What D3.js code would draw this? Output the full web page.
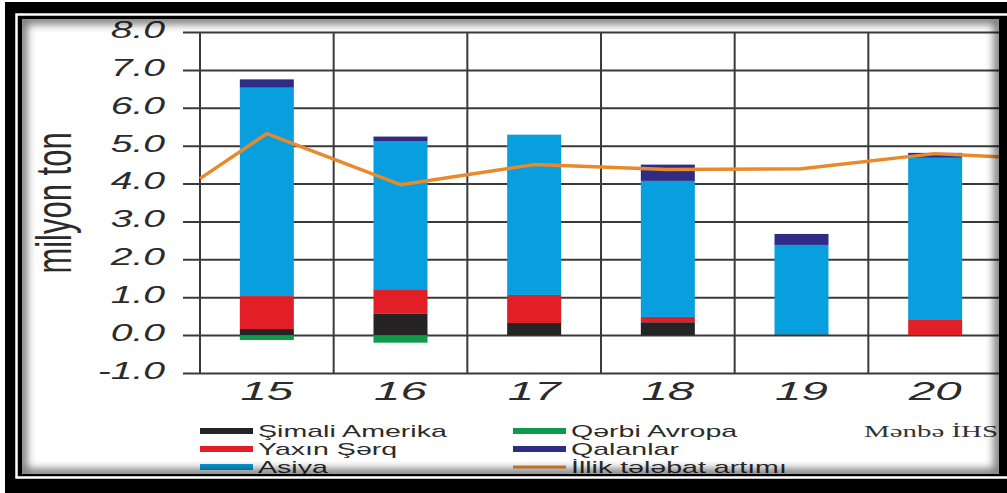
<!DOCTYPE html>
<html>
<head>
<meta charset="utf-8">
<script src="https://cdn.jsdelivr.net/npm/d3@7"></script>
<style>
body{margin:0;background:#fff;}
svg{display:block;}
</style>
</head>
<body>
<svg id="chart" width="1007" height="493"></svg>
<script>
// data (milyon ton)
var years = ["15", "16", "17", "18", "19", "20"];
var simaliAmerika = [0.16, 0.56, 0.32, 0.34, 0.02, 0];
var qerbiAvropa = [-0.13, -0.2, 0, 0, 0, 0];
var yaxinSerq = [0.87, 0.63, 0.74, 0.14, 0, 0.42];
var asiya = [5.5, 3.92, 4.23, 3.59, 2.36, 4.26];
var qalanlar = [0.22, 0.13, 0, 0.43, 0.29, 0.13];
var telebat = [5.32, 3.97, 4.5, 4.37, 4.39, 4.79];
var telebatEdges = [4.13, 4.7]; // line value at left and right edge of plot
var yTicks = [-1, 0, 1, 2, 3, 4, 5, 6, 7, 8];
var yTickLabels = ["-1.0", "0.0", "1.0", "2.0", "3.0", "4.0", "5.0", "6.0", "7.0", "8.0"];

var keys = ["Şimali Amerika", "Qərbi Avropa", "Yaxın Şərq", "Asiya", "Qalanlar"];
var colors = {
    "Şimali Amerika": "#262324",
    "Qərbi Avropa": "#0f9a4a",
    "Yaxın Şərq": "#e21e26",
    "Asiya": "#089fde",
    "Qalanlar": "#2f2c86"
};
var lineColor = "#e8892b";
var gridColor = "#3a3a3a";

var table = years.map(function(yr, i){
    return {
        year: yr,
        "Şimali Amerika": simaliAmerika[i],
        "Qərbi Avropa": qerbiAvropa[i],
        "Yaxın Şərq": yaxinSerq[i],
        "Asiya": asiya[i],
        "Qalanlar": qalanlar[i]
    };
});

var svg = d3.select("#chart");

var x = d3.scaleBand()
    .domain(years)
    .range([200, 1002])
    .paddingInner(0.596)
    .paddingOuter(0.298);

var y = d3.scaleLinear()
    .domain([-1, 8])
    .range([373, 32]);

var plot = svg.append("g");

// horizontal grid + y labels
var yAxis = plot.append("g")
    .attr("transform", "translate(183,0)")
    .call(d3.axisLeft(y)
        .tickValues(yTicks)
        .tickFormat(function(d, i){ return yTickLabels[i]; })
        .tickSize(-817)
        .tickPadding(0));
yAxis.select(".domain").remove();
yAxis.selectAll("line")
    .attr("stroke", gridColor)
    .attr("stroke-width", 2);
yAxis.selectAll("text")
    .attr("x", null)
    .attr("transform", "translate(-18,-2) scale(1.7,1)")
    .attr("fill", "#2b2b2b")
    .style("font-family", "'Liberation Sans', Arial, sans-serif")
    .style("font-style", "italic")
    .style("font-size", "23px");

// vertical grid at band boundaries
var bounds = years.map(function(d){ return x(d) + x.bandwidth() / 2 - x.step() / 2; });
bounds.push(bounds[bounds.length - 1] + x.step());
plot.append("g").selectAll("line")
    .data(bounds)
    .join("line")
    .attr("x1", function(d){ return d; })
    .attr("x2", function(d){ return d; })
    .attr("y1", y(8))
    .attr("y2", y(-1))
    .attr("stroke", gridColor)
    .attr("stroke-width", 2);

// stacked bars
var stacked = d3.stack()
    .keys(keys)
    .offset(d3.stackOffsetDiverging)(table);

plot.append("g").selectAll("g")
    .data(stacked)
    .join("g")
    .attr("fill", function(s){ return colors[s.key]; })
    .selectAll("rect")
    .data(function(s){ return s; })
    .join("rect")
    .attr("x", function(d){ return x(d.data.year); })
    .attr("width", x.bandwidth())
    .attr("y", function(d){ return y(Math.max(d[0], d[1])); })
    .attr("height", function(d){ return Math.abs(y(d[0]) - y(d[1])); });

// x labels
var xAxis = plot.append("g")
    .attr("transform", "translate(0,373)")
    .call(d3.axisBottom(x).tickSize(0).tickPadding(9));
xAxis.select(".domain").remove();
xAxis.selectAll("text")
    .attr("transform", "scale(1.9,1)")
    .attr("fill", "#2b2b2b")
    .style("font-family", "'Liberation Sans', Arial, sans-serif")
    .style("font-style", "italic")
    .style("font-size", "25px");

// demand growth line
var linePts = [{px: x.range()[0], v: telebatEdges[0]}];
years.forEach(function(yr, i){
    linePts.push({px: x(yr) + x.bandwidth() / 2, v: telebat[i]});
});
linePts.push({px: x.range()[1], v: telebatEdges[1]});

var lineGen = d3.line()
    .x(function(d){ return d.px; })
    .y(function(d){ return y(d.v); });

plot.append("path")
    .datum(linePts)
    .attr("d", lineGen)
    .attr("fill", "none")
    .attr("stroke", lineColor)
    .attr("stroke-width", 3.5)
    .attr("stroke-linejoin", "round");

// y title
svg.append("text")
    .attr("transform", "translate(71,203) rotate(-90) scale(1,1.6)")
    .attr("text-anchor", "middle")
    .attr("fill", "#2b2b2b")
    .style("font-family", "'Liberation Sans', Arial, sans-serif")
    .style("font-size", "31px")
    .text("milyon ton");

// legend
var legendItems = [
    {name: "Şimali Amerika", color: colors["Şimali Amerika"], col: 0, row: 0},
    {name: "Yaxın Şərq", color: colors["Yaxın Şərq"], col: 0, row: 1},
    {name: "Asiya", color: colors["Asiya"], col: 0, row: 2},
    {name: "Qərbi Avropa", color: colors["Qərbi Avropa"], col: 1, row: 0},
    {name: "Qalanlar", color: colors["Qalanlar"], col: 1, row: 1},
    {name: "İllik tələbat artımı", color: lineColor, col: 1, row: 2, line: true}
];
var legend = svg.append("g");
var li = legend.selectAll("g")
    .data(legendItems)
    .join("g")
    .attr("transform", function(d){ return "translate(" + (200 + d.col * 313) + "," + (431 + d.row * 18) + ")"; });
li.append("rect")
    .attr("x", 0)
    .attr("y", function(d){ return d.line ? -1.5 : -3; })
    .attr("width", 53)
    .attr("height", function(d){ return d.line ? 3 : 6; })
    .attr("fill", function(d){ return d.color; });
li.append("text")
    .attr("transform", "translate(58,6) scale(1.68,1)")
    .attr("fill", "#2b2b2b")
    .style("font-family", "'Liberation Sans', Arial, sans-serif")
    .style("font-size", "17px")
    .text(function(d){ return d.name; });

svg.append("text")
    .attr("transform", "translate(998,437) scale(1.7,1)")
    .attr("text-anchor", "end")
    .attr("fill", "#333")
    .style("font-family", "'Liberation Serif', 'Times New Roman', serif")
    .style("font-size", "17px")
    .text("Mənbə İHS");

// frame with inner shadow
var defs = svg.append("defs");
defs.append("clipPath").attr("id", "inner")
    .append("rect").attr("x", 22).attr("y", 19).attr("width", 977).attr("height", 455);
defs.append("filter").attr("id", "blur")
    .attr("x", "-5%").attr("y", "-5%").attr("width", "110%").attr("height", "110%")
    .append("feGaussianBlur").attr("stdDeviation", 4);

svg.append("g").attr("clip-path", "url(#inner)")
    .append("rect")
    .attr("x", 22).attr("y", 19).attr("width", 977).attr("height", 455)
    .attr("fill", "none")
    .attr("stroke", "#000")
    .attr("stroke-opacity", 0.55)
    .attr("stroke-width", 10)
    .attr("filter", "url(#blur)");

svg.append("path")
    .attr("fill-rule", "evenodd")
    .attr("fill", "#000")
    .attr("d", "M5,2H1007V493H5Z M22,19V474H999V19Z");

svg.append("path")
    .attr("fill", "none")
    .attr("stroke", "#fff")
    .attr("stroke-width", 2.5)
    .attr("d", "M1007,14.5H16.5V477.5H1007");
</script>
</body>
</html>
